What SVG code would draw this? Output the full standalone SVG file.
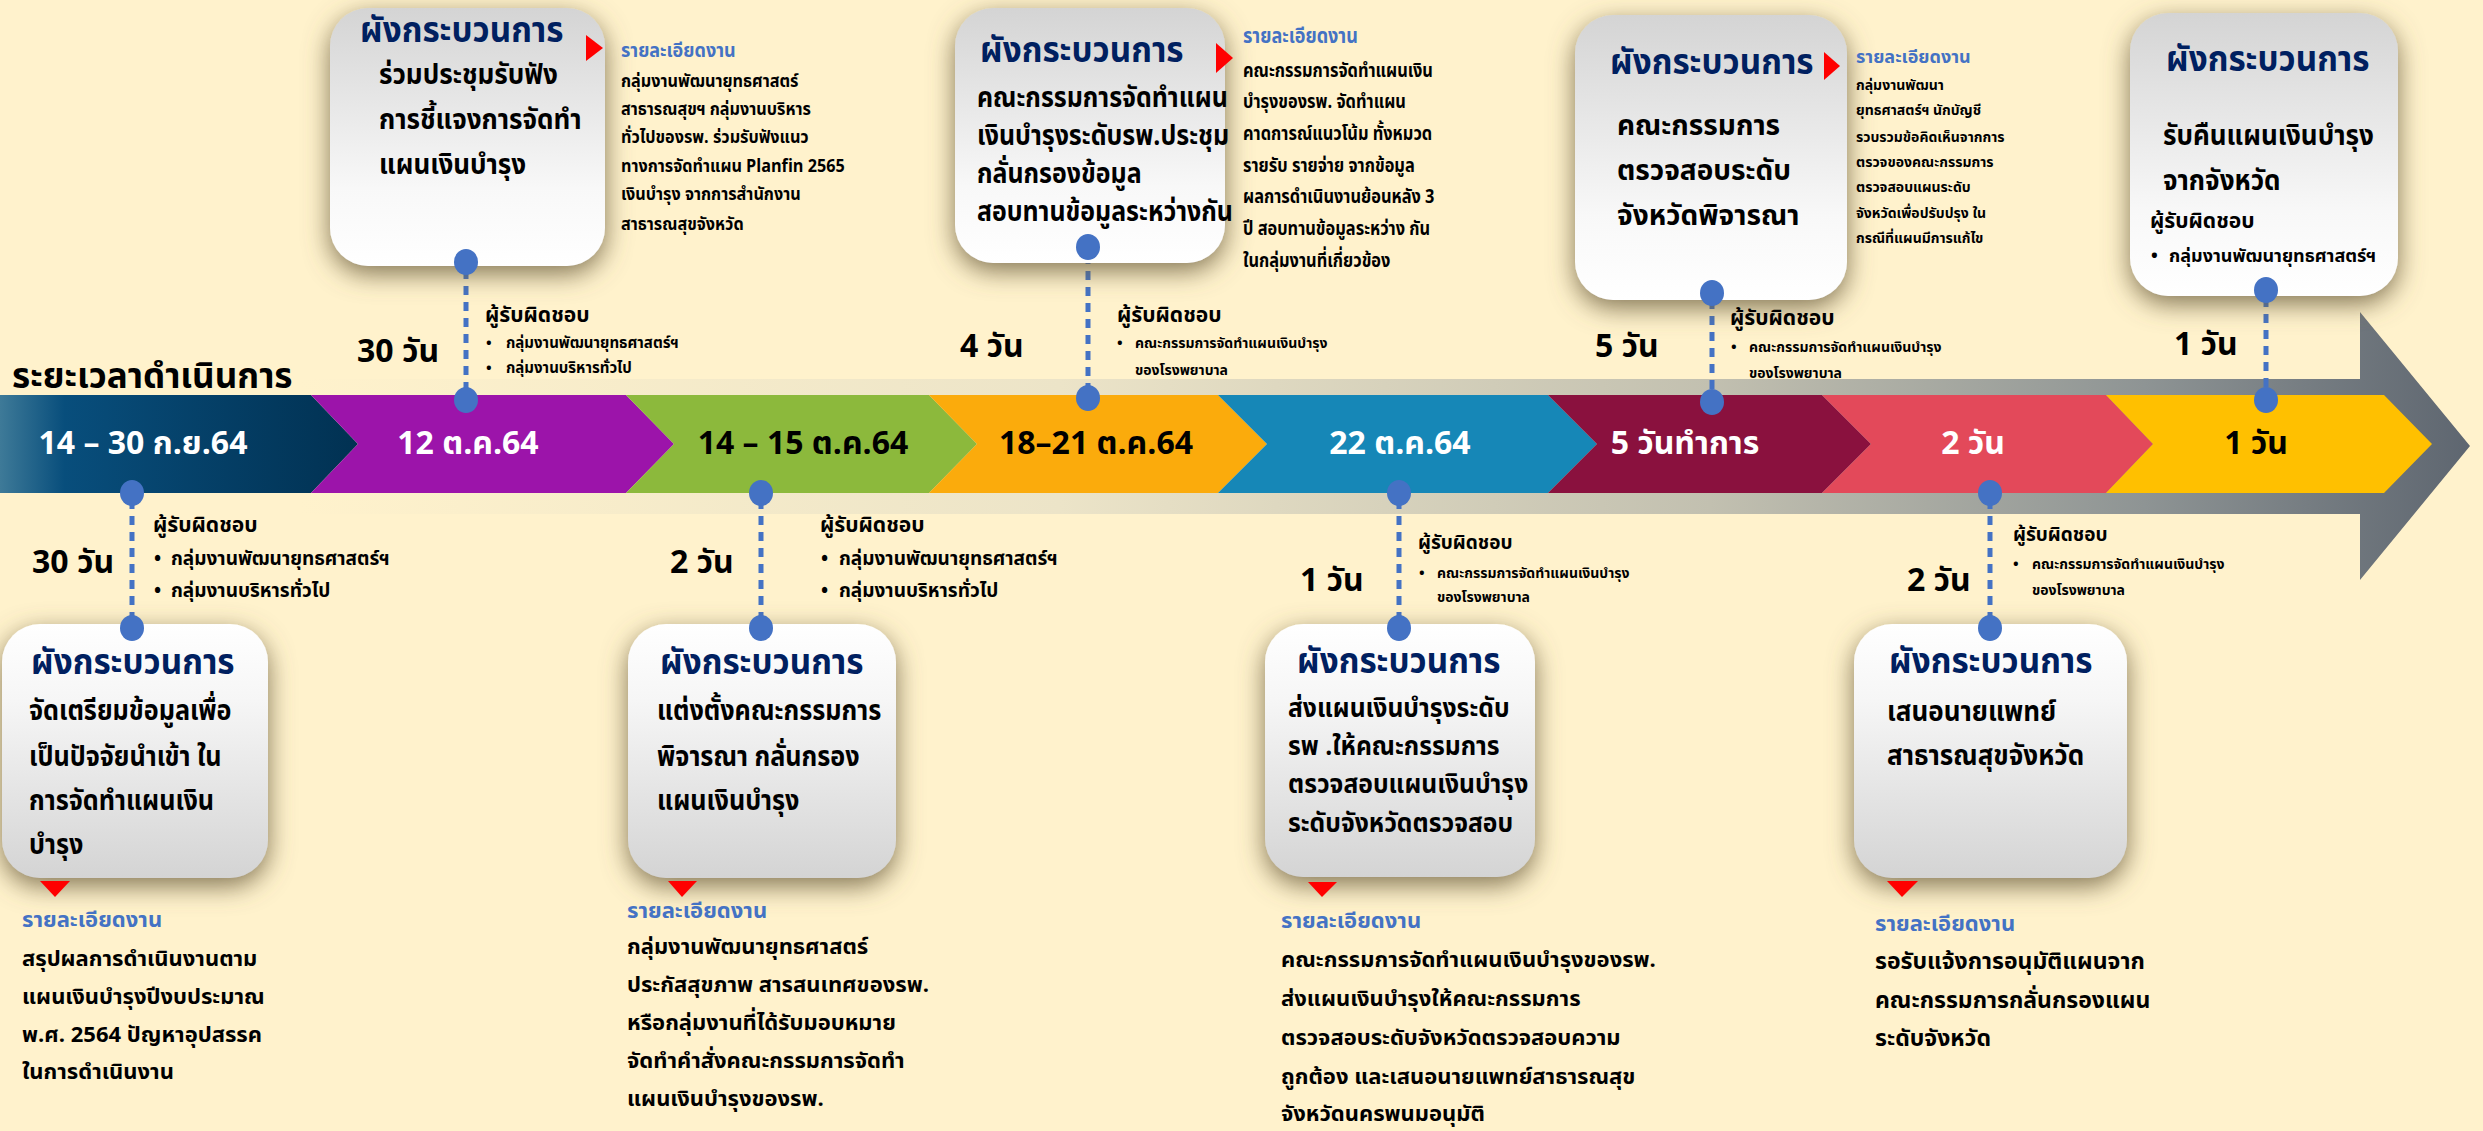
<svg xmlns="http://www.w3.org/2000/svg" width="2483" height="1131" viewBox="0 0 2483 1131">
<defs>
<style>
text{font-family:"Noto Sans Thai","Noto Sans Thai UI","Noto Sans","DejaVu Sans",sans-serif;font-weight:700}
.ttl{font-size:35px;fill:#002060}
.body{font-size:28px;fill:#000}
.dt{fill:#4472C4}
.dd{fill:#000}
.days{font-size:32px;fill:#000}
.resp{font-size:21px;fill:#000}
.bul{font-size:15px;fill:#000}
.band{font-size:32px;text-anchor:middle}
.w{fill:#fff}
.k{fill:#000}
.tri{fill:#FF0000}
.dash{stroke:#4472C4;stroke-width:5;stroke-dasharray:9 7;fill:none}
.dot{fill:#4472C4}
</style>
<linearGradient id="gTop" x1="0" y1="0" x2="0" y2="1">
<stop offset="0" stop-color="#D4D4D4"/><stop offset="0.7" stop-color="#F8F8F8"/><stop offset="1" stop-color="#FFFFFF"/>
</linearGradient>
<linearGradient id="gBot" x1="0" y1="0" x2="0" y2="1">
<stop offset="0" stop-color="#FFFFFF"/><stop offset="0.3" stop-color="#F6F6F6"/><stop offset="1" stop-color="#D4D4D4"/>
</linearGradient>
<linearGradient id="gSeg1" x1="0" y1="0" x2="1" y2="0">
<stop offset="0" stop-color="#3E7A98"/><stop offset="0.18" stop-color="#084E7C"/><stop offset="1" stop-color="#013152"/>
</linearGradient>
<linearGradient id="gShaft" gradientUnits="userSpaceOnUse" x1="300" y1="0" x2="2470" y2="0">
<stop offset="0" stop-color="#FFF2CC"/><stop offset="0.35" stop-color="#ECE4C8"/><stop offset="0.65" stop-color="#C2C0B0"/><stop offset="0.85" stop-color="#8E9494"/><stop offset="1" stop-color="#5E6670"/>
</linearGradient>
<filter id="shd" x="-25%" y="-20%" width="150%" height="150%">
<feGaussianBlur in="SourceAlpha" stdDeviation="13"/>
<feOffset dx="0" dy="8" result="b"/>
<feFlood flood-color="#6E6040" flood-opacity="0.85"/>
<feComposite in2="b" operator="in"/>
<feMerge><feMergeNode/><feMergeNode in="SourceGraphic"/></feMerge>
</filter>
</defs>
<rect width="2483" height="1131" fill="#FFF2CC"/>

<g id="timeline">
<polygon points="300,379 2360,379 2360,312 2470,446 2360,580 2360,514 300,514" fill="url(#gShaft)"/>
<polygon points="0,395 311,395 358,444 311,493 0,493" fill="url(#gSeg1)"/>
<polygon points="311,395 626,395 674,444 626,493 311,493 358,444" fill="#9C14AA"/>
<polygon points="626,395 929,395 977,444 929,493 626,493 674,444" fill="#8CB93C"/>
<polygon points="929,395 1218,395 1267,444 1218,493 929,493 977,444" fill="#FBAB0C"/>
<polygon points="1218,395 1548,395 1597,444 1548,493 1218,493 1267,444" fill="#1687B7"/>
<polygon points="1548,395 1822,395 1871,444 1822,493 1548,493 1597,444" fill="#8A113E"/>
<polygon points="1822,395 2106,395 2153,444 2106,493 1822,493 1871,444" fill="#E3495A"/>
<polygon points="2106,395 2384,395 2432,444 2384,493 2106,493 2153,444" fill="#FFC000"/>
<text class="band w" x="143" y="454">14 – 30  ก.ย.64</text>
<text class="band w" x="468" y="454">12 ต.ค.64</text>
<text class="band k" x="803" y="454">14 – 15 ต.ค.64</text>
<text class="band k" x="1096" y="454">18–21 ต.ค.64</text>
<text class="band w" x="1400" y="454">22 ต.ค.64</text>
<text class="band w" x="1685" y="454">5 วันทำการ</text>
<text class="band w" x="1973" y="454">2 วัน</text>
<text class="band k" x="2256" y="454">1 วัน</text>
<text x="12" y="388" style="font-size:35px;fill:#000">ระยะเวลาดำเนินการ</text>
</g>

<g id="connectors">
<line class="dash" x1="466" y1="270" x2="466" y2="392"/>
<line class="dash" x1="1088" y1="255" x2="1088" y2="390"/>
<line class="dash" x1="1712" y1="300" x2="1712" y2="394"/>
<line class="dash" x1="2266" y1="298" x2="2266" y2="392"/>
<line class="dash" x1="132" y1="500" x2="132" y2="620"/>
<line class="dash" x1="761" y1="500" x2="761" y2="620"/>
<line class="dash" x1="1399" y1="500" x2="1399" y2="620"/>
<line class="dash" x1="1990" y1="500" x2="1990" y2="620"/>
</g>

<g id="node-a">
<rect x="330" y="8" width="275" height="258" rx="38" fill="url(#gTop)" filter="url(#shd)"/>
<text class="ttl" x="360" y="42" transform="translate(360 0) scale(0.95 1) translate(-360 0)">ผังกระบวนการ</text>
<g transform="translate(379 0) scale(0.93 1) translate(-379 0)">
<text class="body" x="379" y="84">ร่วมประชุมรับฟัง</text>
<text class="body" x="379" y="129">การชี้แจงการจัดทำ</text>
<text class="body" x="379" y="174">แผนเงินบำรุง</text>
</g>
<polygon class="tri" points="586,35 603,48 586,61"/>
<g transform="translate(621 0) scale(0.9 1) translate(-621 0)">
<text class="dt" x="621" y="57" style="font-size:20px">รายละเอียดงาน</text>
<g class="dd" style="font-size:18px">
<text x="621" y="87">กลุ่มงานพัฒนายุทธศาสตร์</text>
<text x="621" y="115">สาธารณสุขฯ กลุ่มงานบริหาร</text>
<text x="621" y="143">ทั่วไปของรพ.  ร่วมรับฟังแนว</text>
<text x="621" y="172">ทางการจัดทำแผน Planfin 2565</text>
<text x="621" y="200">เงินบำรุง จากการสำนักงาน</text>
<text x="621" y="230">สาธารณสุขจังหวัด</text>
</g>
</g>
<text class="days" x="357" y="362">30 วัน</text>
<text class="resp" x="485" y="322">ผู้รับผิดชอบ</text>
<text class="bul" x="486" y="348">•</text><text class="bul" x="506" y="348">กลุ่มงานพัฒนายุทธศาสตร์ฯ</text>
<text class="bul" x="486" y="373">•</text><text class="bul" x="506" y="373">กลุ่มงานบริหารทั่วไป</text>
</g>

<g id="node-b">
<rect x="955" y="8" width="270" height="255" rx="38" fill="url(#gTop)" filter="url(#shd)"/>
<text class="ttl" x="980" y="62" transform="translate(980 0) scale(0.95 1) translate(-980 0)">ผังกระบวนการ</text>
<g transform="translate(977 0) scale(0.89 1) translate(-977 0)">
<text class="body" x="977" y="107">คณะกรรมการจัดทำแผน</text>
<text class="body" x="977" y="145">เงินบำรุงระดับรพ.ประชุม</text>
<text class="body" x="977" y="183">กลั่นกรองข้อมูล</text>
<text class="body" x="977" y="221">สอบทานข้อมูลระหว่างกัน</text>
</g>
<polygon class="tri" points="1216,43 1233,58 1216,73"/>
<g transform="translate(1243 0) scale(0.82 1) translate(-1243 0)">
<text class="dt" x="1243" y="43" style="font-size:22px">รายละเอียดงาน</text>
<g class="dd" style="font-size:20px">
<text x="1243" y="77">คณะกรรมการจัดทำแผนเงิน</text>
<text x="1243" y="108">บำรุงของรพ. จัดทำแผน</text>
<text x="1243" y="140">คาดการณ์แนวโน้ม  ทั้งหมวด</text>
<text x="1243" y="172">รายรับ รายจ่าย  จากข้อมูล</text>
<text x="1243" y="203">ผลการดำเนินงานย้อนหลัง 3</text>
<text x="1243" y="235">ปี  สอบทานข้อมูลระหว่าง กัน</text>
<text x="1243" y="267">ในกลุ่มงานที่เกี่ยวข้อง</text>
</g>
</g>
<text class="days" x="960" y="357">4 วัน</text>
<text class="resp" x="1117" y="322">ผู้รับผิดชอบ</text>
<text class="bul" x="1117" y="348">•</text><text class="bul" x="1135" y="348" style="font-size:14px">คณะกรรมการจัดทำแผนเงินบำรุง</text>
<text class="bul" x="1135" y="375" style="font-size:14px">ของโรงพยาบาล</text>
</g>

<g id="node-c">
<rect x="1575" y="15" width="272" height="285" rx="38" fill="url(#gTop)" filter="url(#shd)"/>
<text class="ttl" x="1610" y="74" transform="translate(1610 0) scale(0.95 1) translate(-1610 0)">ผังกระบวนการ</text>
<polygon class="tri" points="1824,52 1840,66 1824,80"/>
<text class="body" x="1617" y="135">คณะกรรมการ</text>
<text class="body" x="1617" y="180">ตรวจสอบระดับ</text>
<text class="body" x="1617" y="225">จังหวัดพิจารณา</text>
<text class="dt" x="1856" y="63" style="font-size:18px">รายละเอียดงาน</text>
<g class="dd" style="font-size:14px">
<text x="1856" y="90">กลุ่มงานพัฒนา</text>
<text x="1856" y="115">ยุทธศาสตร์ฯ นักบัญชี</text>
<text x="1856" y="142">รวบรวมข้อคิดเห็นจากการ</text>
<text x="1856" y="167">ตรวจของคณะกรรมการ</text>
<text x="1856" y="192">ตรวจสอบแผนระดับ</text>
<text x="1856" y="218">จังหวัดเพื่อปรับปรุง ใน</text>
<text x="1856" y="243">กรณีที่แผนมีการแก้ไข</text>
</g>
<text class="days" x="1595" y="357">5 วัน</text>
<text class="resp" x="1730" y="325">ผู้รับผิดชอบ</text>
<text class="bul" x="1731" y="352">•</text><text class="bul" x="1749" y="352" style="font-size:14px">คณะกรรมการจัดทำแผนเงินบำรุง</text>
<text class="bul" x="1749" y="378" style="font-size:14px">ของโรงพยาบาล</text>
</g>

<g id="node-d">
<rect x="2130" y="13" width="268" height="283" rx="38" fill="url(#gTop)" filter="url(#shd)"/>
<text class="ttl" x="2166" y="71" transform="translate(2166 0) scale(0.95 1) translate(-2166 0)">ผังกระบวนการ</text>
<g transform="translate(2163 0) scale(0.93 1) translate(-2163 0)">
<text class="body" x="2163" y="145">รับคืนแผนเงินบำรุง</text>
<text class="body" x="2163" y="190">จากจังหวัด</text>
</g>
<text class="resp" x="2150" y="228">ผู้รับผิดชอบ</text>
<text class="bul" x="2151" y="262" style="font-size:18px">•</text><text class="bul" x="2169" y="262" style="font-size:18px">กลุ่มงานพัฒนายุทธศาสตร์ฯ</text>
<text class="days" x="2174" y="355">1 วัน</text>
</g>

<g id="node-e">
<rect x="2" y="624" width="266" height="254" rx="38" fill="url(#gBot)" filter="url(#shd)"/>
<text class="ttl" x="31" y="674" transform="translate(31 0) scale(0.95 1) translate(-31 0)">ผังกระบวนการ</text>
<g transform="translate(29 0) scale(0.9 1) translate(-29 0)">
<text class="body" x="29" y="720">จัดเตรียมข้อมูลเพื่อ</text>
<text class="body" x="29" y="766">เป็นปัจจัยนำเข้า ใน</text>
<text class="body" x="29" y="810">การจัดทำแผนเงิน</text>
<text class="body" x="29" y="854">บำรุง</text>
</g>
<polygon class="tri" points="40,881 70,881 55,897"/>
<text class="dt" x="22" y="927" style="font-size:22px">รายละเอียดงาน</text>
<g class="dd" style="font-size:22px">
<text x="22" y="966">สรุปผลการดำเนินงานตาม</text>
<text x="22" y="1004">แผนเงินบำรุงปีงบประมาณ</text>
<text x="22" y="1042">พ.ศ. 2564 ปัญหาอุปสรรค</text>
<text x="22" y="1079">ในการดำเนินงาน</text>
</g>
<text class="days" x="32" y="573">30 วัน</text>
<text class="resp" x="153" y="532">ผู้รับผิดชอบ</text>
<text class="bul" x="154" y="565" style="font-size:19px">•</text><text class="bul" x="171" y="565" style="font-size:19px">กลุ่มงานพัฒนายุทธศาสตร์ฯ</text>
<text class="bul" x="154" y="597" style="font-size:19px">•</text><text class="bul" x="171" y="597" style="font-size:19px">กลุ่มงานบริหารทั่วไป</text>
</g>

<g id="node-f">
<rect x="628" y="624" width="268" height="254" rx="38" fill="url(#gBot)" filter="url(#shd)"/>
<text class="ttl" x="660" y="674" transform="translate(660 0) scale(0.95 1) translate(-660 0)">ผังกระบวนการ</text>
<g transform="translate(657 0) scale(0.9 1) translate(-657 0)">
<text class="body" x="657" y="720">แต่งตั้งคณะกรรมการ</text>
<text class="body" x="657" y="766">พิจารณา กลั่นกรอง</text>
<text class="body" x="657" y="810">แผนเงินบำรุง</text>
</g>
<polygon class="tri" points="668,881 697,881 682,897"/>
<text class="dt" x="627" y="918" style="font-size:22px">รายละเอียดงาน</text>
<g class="dd" style="font-size:22px">
<text x="627" y="954">กลุ่มงานพัฒนายุทธศาสตร์</text>
<text x="627" y="992">ประกัสสุขภาพ สารสนเทศของรพ.</text>
<text x="627" y="1030">หรือกลุ่มงานที่ได้รับมอบหมาย</text>
<text x="627" y="1068">จัดทำคำสั่งคณะกรรมการจัดทำ</text>
<text x="627" y="1106">แผนเงินบำรุงของรพ.</text>
</g>
<text class="days" x="670" y="573">2 วัน</text>
<text class="resp" x="820" y="532">ผู้รับผิดชอบ</text>
<text class="bul" x="821" y="565" style="font-size:19px">•</text><text class="bul" x="839" y="565" style="font-size:19px">กลุ่มงานพัฒนายุทธศาสตร์ฯ</text>
<text class="bul" x="821" y="597" style="font-size:19px">•</text><text class="bul" x="839" y="597" style="font-size:19px">กลุ่มงานบริหารทั่วไป</text>
</g>

<g id="node-g">
<rect x="1265" y="624" width="270" height="253" rx="38" fill="url(#gBot)" filter="url(#shd)"/>
<text class="ttl" x="1297" y="673" transform="translate(1297 0) scale(0.95 1) translate(-1297 0)">ผังกระบวนการ</text>
<g transform="translate(1288 0) scale(0.95 1) translate(-1288 0)">
<text class="body" x="1288" y="717" style="font-size:26px">ส่งแผนเงินบำรุงระดับ</text>
<text class="body" x="1288" y="755" style="font-size:26px">รพ .ให้คณะกรรมการ</text>
<text class="body" x="1288" y="793" style="font-size:26px">ตรวจสอบแผนเงินบำรุง</text>
<text class="body" x="1288" y="832" style="font-size:26px">ระดับจังหวัดตรวจสอบ</text>
</g>
<polygon class="tri" points="1308,882 1337,882 1322,897"/>
<text class="dt" x="1281" y="928" style="font-size:22px">รายละเอียดงาน</text>
<g class="dd" style="font-size:22px">
<text x="1281" y="967">คณะกรรมการจัดทำแผนเงินบำรุงของรพ.</text>
<text x="1281" y="1006">ส่งแผนเงินบำรุงให้คณะกรรมการ</text>
<text x="1281" y="1045">ตรวจสอบระดับจังหวัดตรวจสอบความ</text>
<text x="1281" y="1084">ถูกต้อง และเสนอนายแพทย์สาธารณสุข</text>
<text x="1281" y="1121">จังหวัดนครพนมอนุมัติ</text>
</g>
<text class="days" x="1300" y="591">1 วัน</text>
<text class="resp" x="1418" y="549" style="font-size:19px">ผู้รับผิดชอบ</text>
<text class="bul" x="1419" y="578">•</text><text class="bul" x="1437" y="578" style="font-size:14px">คณะกรรมการจัดทำแผนเงินบำรุง</text>
<text class="bul" x="1437" y="602" style="font-size:14px">ของโรงพยาบาล</text>
</g>

<g id="node-h">
<rect x="1854" y="624" width="273" height="254" rx="38" fill="url(#gBot)" filter="url(#shd)"/>
<text class="ttl" x="1889" y="673" transform="translate(1889 0) scale(0.95 1) translate(-1889 0)">ผังกระบวนการ</text>
<g transform="translate(1887 0) scale(0.93 1) translate(-1887 0)">
<text class="body" x="1887" y="721">เสนอนายแพทย์</text>
<text class="body" x="1887" y="765">สาธารณสุขจังหวัด</text>
</g>
<polygon class="tri" points="1887,881 1918,881 1902,897"/>
<text class="dt" x="1875" y="931" style="font-size:22px">รายละเอียดงาน</text>
<g class="dd" style="font-size:23px">
<text x="1875" y="969">รอรับแจ้งการอนุมัติแผนจาก</text>
<text x="1875" y="1008">คณะกรรมการกลั่นกรองแผน</text>
<text x="1875" y="1046">ระดับจังหวัด</text>
</g>
<text class="days" x="1907" y="591">2 วัน</text>
<text class="resp" x="2013" y="541" style="font-size:19px">ผู้รับผิดชอบ</text>
<text class="bul" x="2013" y="569">•</text><text class="bul" x="2032" y="569" style="font-size:14px">คณะกรรมการจัดทำแผนเงินบำรุง</text>
<text class="bul" x="2032" y="595" style="font-size:14px">ของโรงพยาบาล</text>
</g>

<g id="dots">
<ellipse class="dot" cx="466" cy="262" rx="12" ry="13"/><ellipse class="dot" cx="466" cy="400" rx="12" ry="13"/>
<ellipse class="dot" cx="1088" cy="247" rx="12" ry="13"/><ellipse class="dot" cx="1088" cy="398" rx="12" ry="13"/>
<ellipse class="dot" cx="1712" cy="293" rx="12" ry="13"/><ellipse class="dot" cx="1712" cy="402" rx="12" ry="13"/>
<ellipse class="dot" cx="2266" cy="290" rx="12" ry="13"/><ellipse class="dot" cx="2266" cy="400" rx="12" ry="13"/>
<ellipse class="dot" cx="132" cy="493" rx="12" ry="13"/><ellipse class="dot" cx="132" cy="628" rx="12" ry="13"/>
<ellipse class="dot" cx="761" cy="493" rx="12" ry="13"/><ellipse class="dot" cx="761" cy="628" rx="12" ry="13"/>
<ellipse class="dot" cx="1399" cy="493" rx="12" ry="13"/><ellipse class="dot" cx="1399" cy="628" rx="12" ry="13"/>
<ellipse class="dot" cx="1990" cy="493" rx="12" ry="13"/><ellipse class="dot" cx="1990" cy="628" rx="12" ry="13"/>
</g>
</svg>
